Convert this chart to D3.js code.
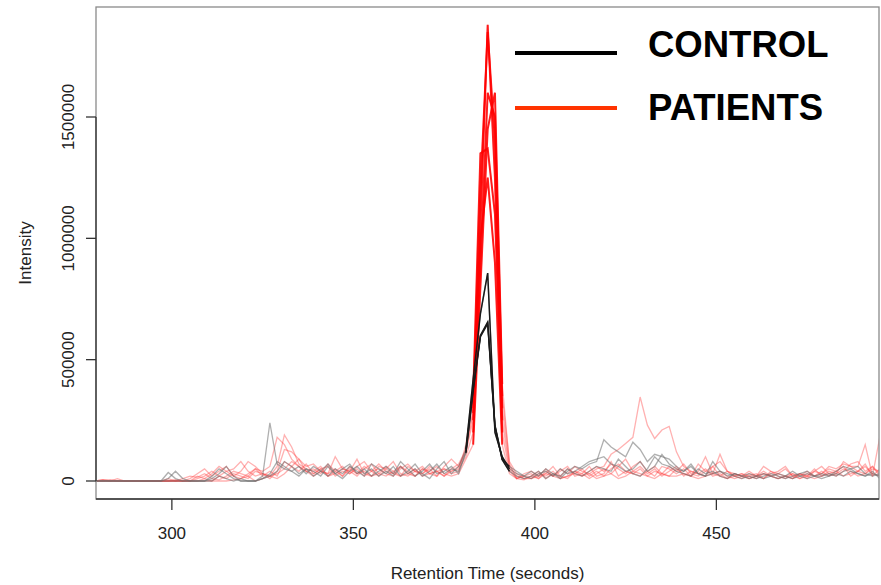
<!DOCTYPE html>
<html>
<head>
<meta charset="utf-8">
<script src="https://cdn.jsdelivr.net/npm/d3@7"></script>
<style>
  body { margin: 0; background: #fff; }
  svg { font-family: "Liberation Sans", Arial, sans-serif; }
  .tick-label { font-size: 17px; fill: #222; }
  .axis-title { font-size: 17px; fill: #222; }
  .legend-text { font-size: 36.5px; font-weight: bold; fill: #000; }
</style>
</head>
<body>
<div id="chart" style="width:881px;height:585px;"></div>
<script>
// retention time (seconds) of each scan
var times = [279,281,283,285,287,289,291,293,295,297,
  299,301,303,305,307,309,311,313,315,317,
  319,321,323,325,327,329,331,333,335,337,
  339,341,343,345,347,349,351,353,355,357,
  359,361,363,365,367,369,371,373,375,377,
  379,381,383,385,387,389,391,393,395,397,
  399,401,403,405,407,409,411,413,415,417,
  419,421,423,425,427,429,431,433,435,437,
  439,441,443,445,447,449,451,453,455,457,
  459,461,463,465,467,469,471,473,475,477,
  479,481,483,485,487,489,491,493,495];

// intensities, in thousands
var control1 = [0,0,0,0,0,0,0,0,0,0,
  35,10,0,0,0,0,20,50,30,10,
  0,0,0,20,240,70,50,40,60,30,
  60,40,20,50,30,60,40,20,70,50,
  30,60,20,40,70,30,10,50,80,30,
  60,130,420,690,857,200,100,50,30,20,
  40,20,50,30,10,40,60,50,70,80,
  170,140,120,100,160,130,80,110,100,90,
  60,40,70,30,20,30,40,20,30,20,
  10,20,30,20,10,20,40,20,10,20,
  30,20,40,60,50,30,20,30,20];
var control2 = [0,0,0,0,0,0,0,0,0,0,
  10,40,10,0,0,0,10,30,60,20,
  0,0,0,10,20,40,80,60,30,50,
  40,20,60,30,50,70,30,50,20,40,
  60,30,80,50,20,40,70,30,40,60,
  30,120,380,600,655,230,90,60,40,20,
  10,30,40,20,50,30,40,60,80,90,
  100,70,60,40,50,80,40,60,110,70,
  50,40,60,30,20,80,40,30,20,10,
  20,10,20,30,20,10,20,30,40,20,
  20,30,20,40,50,60,30,20,30];
var control3 = [0,0,0,0,0,0,0,0,0,0,
  0,0,0,0,0,0,0,20,10,0,
  10,0,0,10,30,80,60,40,20,50,
  20,40,70,30,10,40,60,30,50,20,
  40,20,60,30,50,20,40,70,30,50,
  40,115,370,595,648,225,88,40,20,10,
  20,40,10,30,20,50,30,20,40,60,
  50,40,90,60,30,20,50,100,70,60,
  40,30,20,50,30,40,20,10,30,20,
  30,20,10,20,30,20,10,20,30,20,
  10,20,30,20,40,30,20,40,10];

var patient1 = [0,0,5,0,0,0,0,0,0,0,
  0,0,10,20,15,30,10,5,20,40,
  30,20,50,40,60,180,150,90,60,40,
  50,30,70,40,20,50,30,60,40,20,
  50,30,20,60,40,30,50,20,60,90,
  60,120,250,1050,1880,1250,200,40,10,20,
  30,10,40,20,50,30,60,40,30,50,
  60,110,130,155,180,346,230,175,210,225,
  120,60,40,30,50,20,30,10,20,30,
  20,10,30,20,10,20,30,10,20,40,
  30,60,50,70,60,40,70,20,50];
var patient2 = [0,5,0,0,0,0,0,0,0,0,
  0,0,0,0,10,20,40,20,10,30,
  20,10,40,30,20,60,190,140,70,50,
  40,60,20,30,50,40,20,50,70,30,
  20,40,60,30,20,50,30,40,20,50,
  70,130,300,1200,1850,1400,300,60,20,10,
  20,40,10,30,20,50,30,20,40,60,
  40,70,50,30,60,80,40,20,60,50,
  30,50,20,70,40,30,110,40,20,30,
  10,20,40,20,30,50,20,10,30,20,
  40,20,30,80,60,60,150,20,180];
var patient3 = [0,0,0,10,0,0,0,0,0,0,
  0,5,0,10,30,50,20,40,60,20,
  10,30,50,20,40,20,80,60,40,70,
  30,50,60,20,40,30,60,80,40,50,
  30,20,50,70,40,60,30,20,50,40,
  50,100,200,900,1600,1500,350,80,30,10,
  10,30,20,40,10,20,30,50,20,40,
  20,50,70,40,30,50,20,40,30,60,
  40,70,30,20,40,60,20,10,30,20,
  20,30,10,40,20,10,30,20,40,20,
  30,50,40,60,20,40,30,50,40];
var patient4 = [0,0,0,0,0,0,0,0,0,0,
  0,0,0,0,0,10,0,20,40,50,
  80,40,20,30,10,40,130,120,90,60,
  70,40,30,100,50,40,90,30,20,60,
  50,80,30,20,40,30,60,40,50,30,
  40,150,350,1350,1370,1100,250,50,10,30,
  40,20,30,60,20,10,40,30,60,20,
  30,80,20,40,30,20,40,60,30,20,
  50,30,20,40,100,30,20,40,20,10,
  30,20,60,40,30,20,10,30,20,50,
  20,40,30,50,40,20,30,60,20];
var patient5 = [0,5,0,0,0,0,0,0,0,0,
  10,0,0,0,20,10,30,60,40,20,
  40,80,60,30,20,10,30,60,90,40,
  30,50,20,40,60,30,50,20,40,70,
  40,30,60,40,20,50,40,60,30,20,
  30,90,150,800,1450,1600,400,70,10,20,
  10,20,50,20,40,60,20,30,10,30,
  50,30,60,90,40,60,30,50,20,40,
  60,20,40,30,20,60,80,40,30,20,
  40,20,10,30,40,60,20,30,10,40,
  60,30,20,40,70,80,40,60,30];
var patient6 = [0,0,0,0,0,0,0,0,0,0,
  0,0,0,0,0,0,0,0,0,5,
  10,20,0,10,20,30,50,80,60,40,
  20,40,30,50,20,60,30,40,20,30,
  60,40,20,30,50,20,30,40,20,40,
  60,120,280,1000,1250,900,150,30,10,5,
  20,10,30,20,10,20,40,20,30,10,
  20,30,10,20,40,30,20,10,30,20,
  20,30,20,10,20,30,40,20,10,20,
  10,20,30,20,10,20,10,30,20,10,
  20,30,40,20,30,40,60,30,20];

var controls = [control1, control2, control3];
var patients = [patient1, patient2, patient3, patient4, patient5, patient6];

var yTicks = [0, 500000, 1000000, 1500000];
var xTicks = [300, 350, 400, 450];
var legendLabels = ["CONTROL", "PATIENTS"];

var W = 881, H = 585;
var m = {left: 96, right: 879, top: 7, bottom: 499};

var svg = d3.select("#chart").append("svg")
  .attr("width", W)
  .attr("height", H);

var xScale = d3.scaleLinear().domain([279.1, 494.8]).range([m.left, m.right]);
var yScale = d3.scaleLinear().domain([-74200, 1953300]).range([m.bottom, m.top]);

function toPoints(arr){
  return arr.map(function(v, i){ return {t: times[i], v: v * 1000}; });
}

var line = d3.line()
  .x(function(d){ return xScale(d.t); })
  .y(function(d){ return yScale(d.v); });

svg.append("clipPath").attr("id", "plotclip")
  .append("rect")
  .attr("x", m.left).attr("y", m.top)
  .attr("width", m.right - m.left).attr("height", m.bottom - m.top);

var plot = svg.append("g").attr("clip-path", "url(#plotclip)");

// faint full traces
patients.forEach(function(p){
  plot.append("path").datum(toPoints(p))
    .attr("d", line)
    .attr("fill", "none")
    .attr("stroke", "rgba(255,60,60,0.4)")
    .attr("stroke-width", 1.3);
});
controls.forEach(function(c){
  plot.append("path").datum(toPoints(c))
    .attr("d", line)
    .attr("fill", "none")
    .attr("stroke", "rgba(110,110,110,0.55)")
    .attr("stroke-width", 1.3);
});

// the peak part is drawn strong
patients.forEach(function(p){
  plot.append("path").datum(toPoints(p).slice(52, 57))
    .attr("d", line)
    .attr("fill", "none")
    .attr("stroke", "rgba(255,0,0,0.85)")
    .attr("stroke-width", 2);
});
controls.forEach(function(c){
  plot.append("path").datum(toPoints(c).slice(51, 58))
    .attr("d", line)
    .attr("fill", "none")
    .attr("stroke", "#1a1a1a")
    .attr("stroke-width", 1.5);
});

// box
svg.append("rect")
  .attr("x", m.left).attr("y", m.top)
  .attr("width", m.right - m.left).attr("height", m.bottom - m.top)
  .attr("fill", "none")
  .attr("stroke", "#8a8a8a")
  .attr("stroke-width", 1.3);

// y axis
var yAxis = svg.append("g");
yAxis.append("line")
  .attr("x1", m.left).attr("x2", m.left)
  .attr("y1", yScale(yTicks[0])).attr("y2", yScale(yTicks[yTicks.length - 1]))
  .attr("stroke", "#333").attr("stroke-width", 1.3);
yTicks.forEach(function(t){
  yAxis.append("line")
    .attr("x1", m.left - 10).attr("x2", m.left)
    .attr("y1", yScale(t)).attr("y2", yScale(t))
    .attr("stroke", "#333").attr("stroke-width", 1.3);
  yAxis.append("text")
    .attr("class", "tick-label")
    .attr("transform", "translate(74," + yScale(t) + ") rotate(-90)")
    .attr("text-anchor", "middle")
    .text(t);
});

// x axis
var xAxis = svg.append("g");
xAxis.append("line")
  .attr("x1", m.left).attr("x2", m.right)
  .attr("y1", m.bottom).attr("y2", m.bottom)
  .attr("stroke", "#333").attr("stroke-width", 1.3);
xTicks.forEach(function(t){
  xAxis.append("line")
    .attr("x1", xScale(t)).attr("x2", xScale(t))
    .attr("y1", m.bottom).attr("y2", m.bottom + 11)
    .attr("stroke", "#333").attr("stroke-width", 1.3);
  xAxis.append("text")
    .attr("class", "tick-label")
    .attr("x", xScale(t)).attr("y", 539)
    .attr("text-anchor", "middle")
    .text(t);
});

// axis titles
svg.append("text")
  .attr("class", "axis-title")
  .attr("x", (m.left + m.right) / 2).attr("y", 579)
  .attr("text-anchor", "middle")
  .text("Retention Time (seconds)");
svg.append("text")
  .attr("class", "axis-title")
  .attr("transform", "translate(31," + ((m.top + m.bottom) / 2) + ") rotate(-90)")
  .attr("text-anchor", "middle")
  .text("Intensity");

// legend
var legendColors = ["#000000", "#ff3300"];
var legendY = [53, 108];
legendLabels.forEach(function(lbl, i){
  svg.append("line")
    .attr("x1", 515).attr("x2", 617)
    .attr("y1", legendY[i]).attr("y2", legendY[i])
    .attr("stroke", legendColors[i])
    .attr("stroke-width", 4);
  svg.append("text")
    .attr("class", "legend-text")
    .attr("x", 648).attr("y", legendY[i] + 4 + (i === 0 ? 0 : 8))
    .text(lbl);
});
</script>
</body>
</html>
